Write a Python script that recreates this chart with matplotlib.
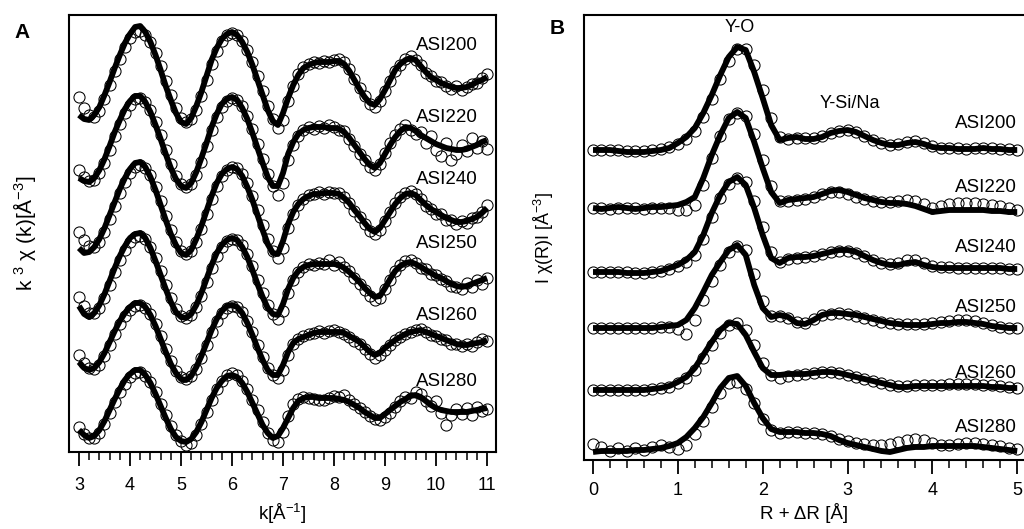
import numpy as np
import matplotlib
matplotlib.use("Agg")
import matplotlib.pyplot as plt
from matplotlib.ticker import MultipleLocator

plt.rcParams['font.family'] = ['Liberation Sans', 'DejaVu Sans']
plt.rcParams['mathtext.fontset'] = 'custom'
plt.rcParams['mathtext.rm'] = 'Liberation Sans'
plt.rcParams['mathtext.it'] = 'Liberation Sans:italic'

samples = ['ASI200', 'ASI220', 'ASI240', 'ASI250', 'ASI260', 'ASI280']

# ---- panel A: k^3 chi(k), sampled every 0.1 A^-1 from 3 to 11
k = np.round(np.arange(3.0, 11.01, 0.1), 1)

chik_fit = {
    'ASI200': [-4.0, -4.4, -4.5, -4.0, -3.2, -2.0, -0.7, 0.7, 2.0, 3.2,
               4.1, 4.8, 4.9, 4.3, 3.3, 2.0, 0.5, -1.1, -2.5, -3.8,
               -4.7, -4.9, -4.3, -3.1, -1.7, -0.1, 1.5, 2.7, 3.6, 4.1,
               4.3, 4.0, 3.3, 2.3, 1.0, -0.5, -2.0, -3.5, -4.6, -5.0,
               -3.8, -2.3, -1.0, 0.0, 0.7, 1.0, 1.2, 1.3, 1.3, 1.3,
               1.4, 1.4, 1.1, 0.4, -0.5, -1.4, -2.2, -2.8, -3.0, -2.4,
               -1.5, -0.5, 0.5, 1.1, 1.5, 1.7, 1.5, 0.9, 0.3, -0.2,
               -0.5, -0.8, -1.0, -1.2, -1.3, -1.3, -1.2, -1.0, -0.7, -0.5,
               -0.2],
    'ASI220': [-3.8, -4.1, -4.2, -3.8, -3.0, -1.9, -0.6, 0.8, 2.0, 3.1,
               3.9, 4.4, 4.4, 3.8, 2.8, 1.5, 0.1, -1.4, -2.8, -3.9,
               -4.6, -4.8, -4.3, -3.2, -1.8, -0.3, 1.3, 2.6, 3.6, 4.1,
               4.3, 4.0, 3.2, 2.1, 0.7, -0.8, -2.3, -3.7, -4.6, -4.6,
               -3.3, -1.4, -0.2, 0.6, 1.0, 1.2, 1.3, 1.3, 1.3, 1.2,
               1.2, 1.1, 0.8, 0.2, -0.5, -1.2, -1.9, -2.5, -2.8, -2.3,
               -1.4, -0.5, 0.3, 0.9, 1.3, 1.2, 0.9, 0.5, 0.2, -0.1,
               -0.4, -0.6, -0.8, -0.9, -1.0, -1.0, -0.9, -0.7, -0.5, -0.2,
               0.0],
    'ASI240': [-4.0, -4.5, -4.4, -3.9, -3.1, -2.0, -0.7, 0.6, 1.9, 3.0,
               3.9, 4.5, 4.6, 4.1, 3.1, 1.8, 0.3, -1.2, -2.6, -3.7,
               -4.5, -4.7, -4.2, -3.1, -1.8, -0.3, 1.2, 2.5, 3.4, 3.9,
               4.1, 3.9, 3.2, 2.1, 0.8, -0.7, -2.2, -3.6, -4.5, -4.6,
               -3.3, -1.6, -0.4, 0.4, 0.9, 1.2, 1.4, 1.4, 1.5, 1.5,
               1.5, 1.4, 1.0, 0.5, -0.2, -0.8, -1.5, -2.1, -2.4, -2.0,
               -1.2, -0.4, 0.4, 1.0, 1.4, 1.5, 1.3, 0.8, 0.3, -0.1,
               -0.4, -0.7, -1.0, -1.2, -1.4, -1.4, -1.3, -1.1, -0.9, -0.5,
               0.0],
    'ASI250': [-2.8, -3.6, -3.9, -3.5, -2.7, -1.6, -0.3, 1.0, 2.2, 3.2,
               4.0, 4.4, 4.5, 4.0, 3.0, 1.7, 0.3, -1.1, -2.4, -3.4,
               -3.9, -4.0, -3.6, -2.7, -1.5, -0.1, 1.3, 2.5, 3.3, 3.8,
               4.0, 3.8, 3.1, 2.1, 0.8, -0.6, -1.9, -3.0, -3.6, -3.7,
               -2.6, -1.1, 0.0, 0.7, 1.1, 1.3, 1.4, 1.4, 1.4, 1.4,
               1.4, 1.3, 1.0, 0.6, 0.1, -0.4, -1.0, -1.5, -1.9, -1.8,
               -1.0, -0.1, 0.7, 1.2, 1.5, 1.6, 1.4, 1.1, 0.8, 0.5,
               0.2, 0.0, -0.3, -0.6, -0.8, -0.9, -0.8, -0.6, -0.4, -0.2,
               0.0],
    'ASI260': [-2.0, -2.6, -2.8, -2.6, -2.0, -1.1, 0.0, 1.1, 2.1, 2.9,
               3.5, 3.9, 3.9, 3.5, 2.7, 1.6, 0.3, -1.0, -2.2, -3.1,
               -3.7, -3.8, -3.4, -2.5, -1.4, -0.1, 1.2, 2.3, 3.1, 3.6,
               3.7, 3.5, 2.9, 1.9, 0.7, -0.6, -1.8, -2.8, -3.3, -3.3,
               -2.3, -1.0, -0.1, 0.3, 0.5, 0.7, 0.9, 1.0, 1.0, 1.0,
               1.0, 1.0, 0.9, 0.6, 0.3, 0.0, -0.5, -1.0, -1.3, -1.1,
               -0.6, -0.2, 0.2, 0.5, 0.8, 1.0, 1.1, 1.2, 1.0, 0.8,
               0.6, 0.4, 0.2, 0.0, -0.2, -0.3, -0.3, -0.2, -0.1, 0.0,
               0.2],
    'ASI280': [-2.0, -2.5, -2.8, -2.6, -2.0, -1.1, 0.0, 1.1, 2.1, 3.0,
               3.6, 4.0, 4.0, 3.5, 2.7, 1.6, 0.4, -0.8, -1.9, -2.7,
               -3.1, -3.2, -2.9, -2.2, -1.2, 0.0, 1.2, 2.2, 2.9, 3.4,
               3.5, 3.3, 2.7, 1.8, 0.7, -0.4, -1.5, -2.3, -2.8, -2.6,
               -1.8, -0.8, 0.2, 0.9, 1.2, 1.3, 1.3, 1.2, 1.2, 1.2,
               1.2, 1.1, 1.0, 0.8, 0.5, 0.2, -0.2, -0.5, -0.8, -0.8,
               -0.4, 0.0, 0.4, 0.8, 1.1, 1.4, 1.5, 1.3, 0.9, 0.5,
               0.2, 0.0, -0.1, -0.2, -0.2, -0.2, -0.2, -0.1, 0.0, 0.1,
               0.2],
}

chik_data = {
    'ASI200': [-2.2, -3.3, -4.0, -4.2, -3.6, -2.4, -1.0, 0.4, 1.6, 2.8,
               3.7, 4.3, 4.4, 4.0, 3.3, 2.2, 0.9, -0.6, -2.0, -3.3,
               -4.3, -4.7, -4.4, -3.5, -2.1, -0.5, 1.1, 2.4, 3.4, 4.0,
               4.2, 4.0, 3.4, 2.5, 1.3, -0.1, -1.6, -3.1, -4.4, -5.3,
               -4.5, -2.6, -1.1, 0.1, 0.8, 1.1, 1.3, 1.2, 1.4, 1.3,
               1.5, 1.6, 1.3, 0.6, -0.4, -1.3, -2.1, -2.9, -3.2, -2.6,
               -1.6, -0.6, 0.4, 1.0, 1.6, 1.9, 1.5, 1.0, 0.2, -0.1,
               -0.6, -0.7, -1.1, -1.4, -1.1, -1.5, -1.2, -0.9, -0.8, -0.3,
               0.1],
    'ASI220': [-3.0, -3.7, -4.1, -4.0, -3.3, -2.3, -1.0, 0.4, 1.6, 2.7,
               3.5, 4.1, 4.2, 3.8, 3.0, 1.8, 0.5, -1.0, -2.4, -3.6,
               -4.4, -4.7, -4.4, -3.5, -2.2, -0.6, 1.0, 2.3, 3.3, 3.9,
               4.2, 4.0, 3.4, 2.4, 1.1, -0.4, -1.9, -3.4, -4.6, -5.5,
               -4.3, -2.0, -0.5, 0.4, 1.0, 1.3, 1.1, 1.4, 1.2, 1.5,
               1.3, 1.0, 0.9, 0.1, -0.6, -1.4, -2.0, -2.7, -3.0, -2.4,
               -1.3, -0.3, 0.5, 1.1, 1.5, 1.0, 0.6, 0.8, -0.3, 0.4,
               -1.0, -1.6, -0.3, -2.0, -1.4, -0.5, -1.1, 0.2, -0.8, -0.1,
               -0.9],
    'ASI240': [-2.4, -3.2, -3.8, -3.9, -3.4, -2.4, -1.1, 0.2, 1.5, 2.6,
               3.5, 4.1, 4.3, 4.0, 3.3, 2.1, 0.7, -0.8, -2.2, -3.4,
               -4.3, -4.6, -4.3, -3.4, -2.1, -0.6, 0.9, 2.2, 3.2, 3.8,
               4.1, 4.0, 3.4, 2.5, 1.2, -0.2, -1.7, -3.1, -4.3, -5.0,
               -4.0, -2.0, -0.6, 0.3, 0.9, 1.3, 1.4, 1.6, 1.4, 1.6,
               1.5, 1.5, 1.1, 0.5, -0.3, -0.9, -1.6, -2.3, -2.6, -2.2,
               -1.3, -0.4, 0.5, 1.1, 1.5, 1.7, 1.4, 0.9, 0.2, -0.1,
               -0.6, -0.6, -1.2, -1.2, -1.6, -1.3, -1.5, -1.0, -0.9, -0.4,
               0.3],
    'ASI250': [-1.9, -2.8, -3.5, -3.5, -3.0, -2.0, -0.7, 0.6, 1.8, 2.8,
               3.6, 4.1, 4.2, 3.9, 3.1, 2.0, 0.7, -0.7, -2.0, -3.1,
               -3.8, -4.0, -3.7, -2.9, -1.8, -0.4, 1.0, 2.2, 3.1, 3.7,
               3.9, 3.8, 3.3, 2.4, 1.2, -0.2, -1.5, -2.7, -3.6, -4.1,
               -3.3, -1.5, -0.2, 0.6, 1.1, 1.4, 1.3, 1.5, 1.4, 1.8,
               1.3, 1.6, 1.1, 0.7, 0.0, -0.6, -1.2, -1.8, -2.2, -2.0,
               -1.1, -0.2, 0.7, 1.3, 1.7, 1.8, 1.5, 1.0, 0.9, 0.4,
               0.3, -0.1, -0.3, -0.8, -0.9, -1.1, -0.5, -0.9, -0.2, -0.6,
               0.0],
    'ASI260': [-1.3, -2.1, -2.6, -2.7, -2.3, -1.4, -0.3, 0.8, 1.8, 2.6,
               3.2, 3.6, 3.7, 3.4, 2.8, 1.8, 0.6, -0.7, -1.9, -2.9,
               -3.5, -3.7, -3.4, -2.7, -1.6, -0.3, 1.0, 2.1, 2.9, 3.4,
               3.6, 3.5, 3.0, 2.1, 1.0, -0.3, -1.5, -2.6, -3.3, -3.6,
               -2.8, -1.3, -0.2, 0.3, 0.6, 0.8, 0.9, 1.1, 0.9, 1.1,
               1.2, 1.0, 0.8, 0.5, 0.1, -0.2, -0.7, -1.2, -1.6, -1.3,
               -0.8, -0.3, 0.2, 0.5, 0.8, 1.0, 1.2, 1.3, 1.0, 0.7,
               0.6, 0.3, 0.2, -0.2, -0.2, -0.4, -0.2, -0.4, 0.0, 0.3,
               0.1],
    'ASI280': [-1.7, -2.4, -2.8, -2.8, -2.3, -1.4, -0.3, 0.8, 1.8, 2.6,
               3.3, 3.7, 3.8, 3.4, 2.8, 1.8, 0.6, -0.5, -1.6, -2.5,
               -3.1, -3.5, -3.3, -2.5, -1.4, -0.2, 1.0, 2.1, 2.9, 3.5,
               3.7, 3.5, 2.9, 2.1, 1.0, 0.0, -1.2, -2.3, -3.0, -3.2,
               -2.2, -0.6, 0.6, 1.1, 1.3, 1.2, 1.1, 1.0, 1.0, 1.2,
               1.4, 1.3, 1.5, 1.0, 0.6, 0.2, -0.2, -0.6, -0.9, -1.0,
               -0.7, -0.3, 0.3, 0.9, 1.3, 1.2, 1.8, 1.6, 0.9, 0.4,
               0.9, -0.3, -1.5, -0.5, 0.1, -0.4, 0.2, -0.5, 0.3, -0.1,
               0.1],
}

# vertical stacking of the k-space curves
k_offsets = [37.7, 31.2, 24.4, 17.4, 11.0, 4.2]

# ---- panel B: |chi(R)|, sampled every 0.1 A from 0 to 5
r = np.round(np.arange(0.0, 5.01, 0.1), 1)

chir_fit = {
    'ASI200': [0.3, 0.3, 0.3, 0.2, 0.1, 0.1, 0.1, 0.2, 0.3, 0.5,
               1.0, 1.6, 2.5, 4.0, 5.8, 7.8, 9.6, 10.6, 10.3, 8.1,
               5.5, 2.8, 1.3, 1.5, 1.6, 1.4, 1.4, 1.6, 2.0, 2.2,
               2.3, 2.1, 1.7, 1.3, 1.0, 0.8, 0.8, 1.0, 1.1, 0.9,
               0.6, 0.5, 0.5, 0.4, 0.4, 0.4, 0.5, 0.4, 0.4, 0.3,
               0.3],
    'ASI220': [0.6, 0.5, 0.6, 0.7, 0.6, 0.5, 0.6, 0.7, 0.7, 0.8,
               0.9, 1.2, 1.7, 3.6, 5.9, 7.9, 9.6, 10.2, 9.6, 7.2,
               4.6, 2.2, 1.1, 1.4, 1.5, 1.6, 1.7, 2.0, 2.3, 2.4,
               2.2, 1.9, 1.6, 1.4, 1.2, 1.1, 1.1, 1.0, 0.8, 0.5,
               0.2, 0.3, 0.4, 0.4, 0.4, 0.4, 0.4, 0.3, 0.3, 0.2,
               0.2],
    'ASI240': [0.3, 0.3, 0.3, 0.3, 0.2, 0.2, 0.2, 0.3, 0.4, 0.7,
               1.0, 1.5, 2.3, 4.0, 6.2, 8.0, 9.3, 9.8, 9.0, 6.7,
               4.0, 1.7, 1.2, 1.7, 1.8, 1.8, 1.9, 2.1, 2.3, 2.5,
               2.5, 2.3, 1.9, 1.5, 1.2, 1.0, 1.0, 1.2, 1.3, 1.0,
               0.8, 0.7, 0.7, 0.7, 0.7, 0.7, 0.7, 0.7, 0.7, 0.6,
               0.6],
    'ASI250': [0.8, 0.8, 0.8, 0.8, 0.8, 0.8, 0.8, 0.8, 0.9, 1.0,
               1.1, 1.6, 2.8, 4.4, 6.1, 7.4, 8.6, 9.1, 8.1, 5.1,
               2.8, 1.9, 2.1, 1.9, 1.3, 1.2, 1.6, 2.1, 2.3, 2.3,
               2.2, 2.1, 1.9, 1.7, 1.5, 1.3, 1.2, 1.1, 1.1, 1.1,
               1.2, 1.3, 1.3, 1.4, 1.4, 1.3, 1.2, 1.0, 0.9, 0.8,
               0.8],
    'ASI260': [0.3, 0.3, 0.3, 0.3, 0.3, 0.3, 0.3, 0.4, 0.5, 0.7,
               1.1, 1.6, 2.5, 3.8, 5.1, 6.3, 7.0, 6.9, 5.8, 4.1,
               2.5, 1.8, 1.8, 1.9, 1.9, 1.9, 2.0, 2.1, 2.1, 2.0,
               1.8, 1.6, 1.4, 1.2, 1.0, 0.8, 0.6, 0.6, 0.7, 0.7,
               0.7, 0.7, 0.7, 0.7, 0.7, 0.7, 0.7, 0.6, 0.6, 0.5,
               0.5],
    'ASI280': [0.1, 0.2, 0.2, 0.2, 0.2, 0.3, 0.3, 0.4, 0.5, 0.7,
               1.0, 1.6, 2.5, 3.6, 5.0, 6.5, 7.5, 7.7, 6.7, 5.0,
               3.5, 2.4, 2.1, 2.1, 2.1, 2.0, 2.0, 1.9, 1.7, 1.3,
               1.0, 0.8, 0.6, 0.4, 0.2, 0.1, 0.3, 0.5, 0.6, 0.6,
               0.7, 0.7, 0.7, 0.7, 0.7, 0.7, 0.6, 0.5, 0.4, 0.3,
               0.2],
}

chir_data = {
    'ASI200': [0.3, 0.3, 0.3, 0.3, 0.2, 0.2, 0.2, 0.3, 0.4, 0.6,
               0.9, 1.4, 2.2, 3.6, 5.4, 7.4, 9.2, 10.4, 10.4, 8.8,
               6.3, 3.5, 1.6, 1.4, 1.5, 1.5, 1.5, 1.7, 2.0, 2.2,
               2.3, 2.1, 1.7, 1.3, 1.0, 0.8, 0.9, 1.1, 1.2, 1.0,
               0.7, 0.5, 0.5, 0.5, 0.4, 0.5, 0.5, 0.5, 0.4, 0.4,
               0.3],
    'ASI220': [0.6, 0.6, 0.5, 0.6, 0.6, 0.6, 0.5, 0.6, 0.6, 0.6,
               0.4, 0.4, 0.9, 2.9, 5.6, 7.8, 9.5, 10.1, 9.8, 8.0,
               5.4, 2.8, 1.3, 1.3, 1.4, 1.5, 1.7, 2.0, 2.2, 2.2,
               2.0, 1.7, 1.5, 1.3, 1.2, 1.2, 1.3, 1.4, 1.3, 1.0,
               0.6, 0.8, 1.0, 1.1, 1.1, 1.1, 1.0, 0.9, 0.8, 0.6,
               0.4],
    'ASI240': [0.3, 0.3, 0.3, 0.3, 0.3, 0.2, 0.2, 0.3, 0.4, 0.6,
               0.9, 1.3, 2.0, 3.6, 5.8, 7.7, 9.1, 9.7, 9.3, 7.4,
               4.8, 2.3, 1.3, 1.6, 1.7, 1.8, 1.9, 2.1, 2.3, 2.4,
               2.4, 2.2, 1.9, 1.5, 1.2, 1.1, 1.2, 1.5, 1.5, 1.2,
               0.9, 0.8, 0.8, 0.7, 0.7, 0.7, 0.7, 0.7, 0.7, 0.6,
               0.6],
    'ASI250': [0.8, 0.8, 0.8, 0.8, 0.8, 0.8, 0.8, 0.8, 0.9, 0.9,
               0.7, 0.2, 1.6, 3.6, 5.5, 7.1, 8.4, 9.0, 8.6, 6.2,
               3.5, 2.0, 2.0, 1.8, 1.4, 1.3, 1.7, 2.1, 2.2, 2.3,
               2.2, 2.0, 1.8, 1.6, 1.4, 1.3, 1.2, 1.2, 1.2, 1.2,
               1.3, 1.4, 1.5, 1.6, 1.6, 1.5, 1.3, 1.1, 0.9, 0.8,
               0.8],
    'ASI260': [0.3, 0.3, 0.3, 0.3, 0.3, 0.3, 0.3, 0.4, 0.5, 0.6,
               1.0, 1.5, 2.3, 3.5, 4.8, 6.0, 6.8, 7.0, 6.3, 4.8,
               3.0, 1.8, 1.5, 1.7, 1.8, 1.9, 2.0, 2.1, 2.1, 2.0,
               1.8, 1.6, 1.4, 1.2, 1.0, 0.8, 0.7, 0.7, 0.8, 0.8,
               0.8, 0.8, 0.9, 0.9, 0.9, 0.9, 0.8, 0.8, 0.7, 0.6,
               0.5],
    'ASI280': [0.9, 0.6, 0.2, 0.5, 0.2, 0.5, 0.3, 0.6, 0.8, 0.6,
               0.4, 0.8, 1.9, 3.2, 4.6, 6.0, 7.0, 7.1, 6.4, 5.0,
               3.4, 2.3, 2.0, 2.1, 2.1, 2.0, 2.0, 1.9, 1.7, 1.4,
               1.2, 1.0, 0.9, 0.8, 0.8, 0.9, 1.1, 1.3, 1.4, 1.3,
               1.0, 0.8, 0.8, 0.9, 1.0, 1.0, 0.9, 0.8, 0.7, 0.5,
               0.4],
}

r_offsets = [30.7, 24.6, 18.5, 12.4, 6.7, 0.7]

# label positions (data coords) for the sample names
k_label_y = [40.7, 33.5, 27.2, 20.9, 13.7, 7.0]
r_label_y = [33.7, 27.3, 21.3, 15.3, 8.7, 3.2]


def style_axis(ax, pad):
    for s in ax.spines.values():
        s.set_linewidth(1.5)
    ax.tick_params(axis='x', which='major', direction='out', length=10,
                   width=1.3, labelsize=13, pad=pad)
    ax.tick_params(axis='x', which='minor', direction='out', length=6, width=1.1)
    ax.set_yticks([])


fig = plt.figure(figsize=(10.24, 5.29), dpi=100)

# panel A
axA = fig.add_axes([69 / 1024, 77 / 529, 427 / 1024, 437 / 529])
for i, name in enumerate(samples):
    off = k_offsets[i]
    axA.plot(k, np.array(chik_fit[name]) + off, color='black', lw=4.2,
             solid_capstyle='butt', zorder=2)
    axA.plot(k, np.array(chik_data[name]) + off, 'o', ms=8, mfc='none',
             mec='black', mew=0.75, zorder=3)
    axA.text(10.82, k_label_y[i], name, ha='right', va='center', fontsize=13.5)
axA.set_xlim(2.804, 11.176)
axA.set_ylim(0, 43.7)
axA.xaxis.set_major_locator(MultipleLocator(1))
axA.xaxis.set_minor_locator(MultipleLocator(0.2))
style_axis(axA, pad=8)
axA.set_xlabel('k[Å$^{-1}$]', fontsize=13.5, labelpad=6)
axA.set_ylabel('k $^{3}$ χ (k)[Å$^{-3}$]', fontsize=15)
axA.yaxis.set_label_coords(-0.073, 0.5)

# panel B
axB = fig.add_axes([584 / 1024, 69 / 529, 440 / 1024, 445 / 529])
for i, name in enumerate(samples):
    off = r_offsets[i]
    axB.plot(r, np.array(chir_fit[name]) + off, color='black', lw=4.2,
             solid_capstyle='butt', zorder=2)
    axB.plot(r, np.array(chir_data[name]) + off, 'o', ms=8, mfc='none',
             mec='black', mew=0.75, zorder=3)
    axB.text(5.0, r_label_y[i], name, ha='right', va='center', fontsize=13.5)
axB.text(1.73, 43.3, 'Y-O', ha='center', va='center', fontsize=13)
axB.text(3.03, 35.7, 'Y-Si/Na', ha='center', va='center', fontsize=13)
axB.set_xlim(-0.106, 5.08)
axB.set_ylim(0, 44.5)
axB.xaxis.set_major_locator(MultipleLocator(1))
axB.xaxis.set_minor_locator(MultipleLocator(0.2))
style_axis(axB, pad=6)
axB.spines['right'].set_visible(False)
axB.set_xlabel('R + ΔR [Å]', fontsize=13.5, labelpad=3)
axB.set_ylabel('I χ(R)I [Å$^{-3}$]', fontsize=13)
axB.yaxis.set_label_coords(-0.064, 0.5)

fig.text(22 / 1024, 1 - 32 / 529, 'A', fontsize=15, fontweight='bold',
         ha='center', va='center')
fig.text(557 / 1024, 1 - 28 / 529, 'B', fontsize=15, fontweight='bold',
         ha='center', va='center')

fig.savefig('out.png', dpi=100)
plt.close(fig)
